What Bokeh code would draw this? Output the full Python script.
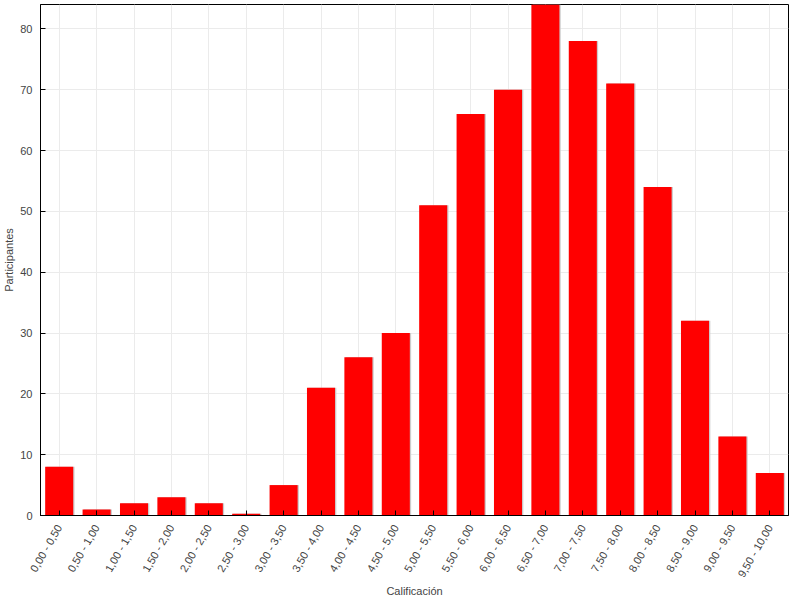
import math
from bokeh.plotting import figure
from bokeh.models import ColumnDataSource, FactorRange, Range1d, FixedTicker
from bokeh.transform import dodge
from bokeh.embed import file_html
from bokeh.resources import INLINE

categories = ["0,00 - 0,50", "0,50 - 1,00", "1,00 - 1,50", "1,50 - 2,00", "2,00 - 2,50",
              "2,50 - 3,00", "3,00 - 3,50", "3,50 - 4,00", "4,00 - 4,50", "4,50 - 5,00",
              "5,00 - 5,50", "5,50 - 6,00", "6,00 - 6,50", "6,50 - 7,00", "7,00 - 7,50",
              "7,50 - 8,00", "8,00 - 8,50", "8,50 - 9,00", "9,00 - 9,50", "9,50 - 10,00"]
participantes = [8, 1, 2, 3, 2, 0.3, 5, 21, 26, 30, 51, 66, 70, 84, 78, 71, 54, 32, 13, 7]
y_ticks = [0, 10, 20, 30, 40, 50, 60, 70, 80]

src = ColumnDataSource(dict(cat=categories, val=participantes))

FONT = "Liberation Sans"
TXT = "#444444"

p = figure(x_range=FactorRange(*categories, range_padding=0), y_range=Range1d(0, 84),
           width=792, height=600, output_backend="svg", toolbar_location=None,
           min_border_left=37, min_border_right=4, min_border_top=4, min_border_bottom=83)

p.vbar(x=dodge("cat", 0.035, range=p.x_range), top="val", width=0.75, source=src,
       fill_color="#cccccc", line_color=None)
p.vbar(x="cat", top="val", width=0.75, source=src, fill_color="#ff0000", line_color=None)

p.outline_line_color = "black"
p.outline_line_width = 1
p.outline_line_alpha = 1
p.background_fill_color = "white"
p.border_fill_color = "white"

for g in (p.xgrid, p.ygrid):
    g.grid_line_color = "#ebebeb"
    g.grid_line_width = 1

p.yaxis.ticker = FixedTicker(ticks=y_ticks)
p.yaxis.minor_tick_line_color = None

for ax in (p.xaxis, p.yaxis):
    ax.axis_line_color = "black"
    ax.major_tick_line_color = "black"
    ax.major_tick_in = 5
    ax.major_tick_out = 0
    ax.major_label_text_font = FONT
    ax.major_label_text_font_size = "11px"
    ax.major_label_text_color = TXT
    ax.axis_label_text_font = FONT
    ax.axis_label_text_font_size = "11px"
    ax.axis_label_text_color = TXT
    ax.axis_label_text_font_style = "normal"

p.xaxis.axis_label = "Calificación"
p.yaxis.axis_label = "Participantes"
p.xaxis.major_label_orientation = math.pi / 3
p.xaxis.major_label_standoff = 10
p.yaxis.major_label_standoff = 8
p.xaxis.axis_label_standoff = 0
p.yaxis.axis_label_standoff = 2

open("out.html", "w").write(file_html(p, INLINE))
